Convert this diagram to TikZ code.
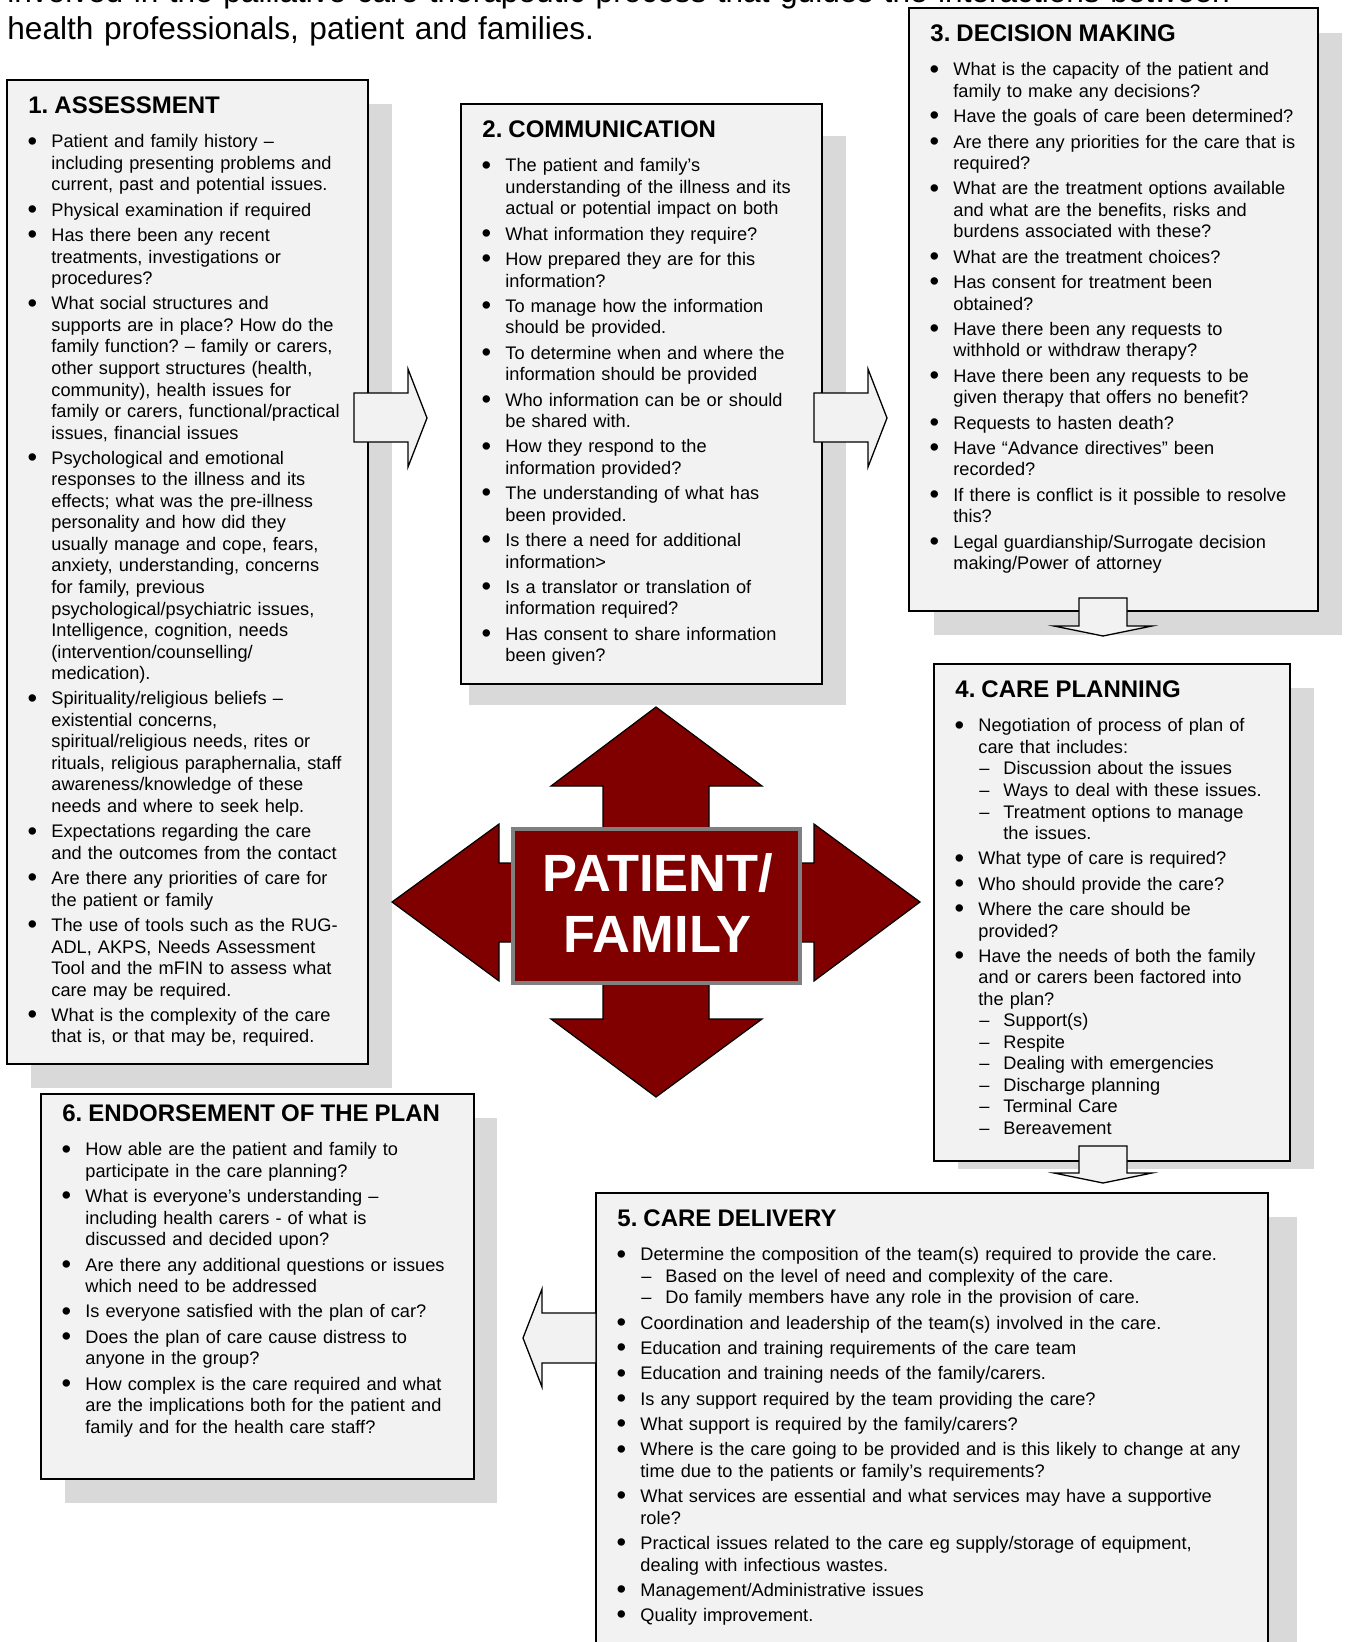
\documentclass[tikz,border=0pt]{standalone}
\usepackage{fontspec}
\setmainfont{Liberation Sans}
\frenchspacing
\definecolor{boxfill}{HTML}{F2F2F2}
\definecolor{shadowgray}{HTML}{D9D9D9}
\definecolor{pfred}{HTML}{800000}
\definecolor{rimgray}{HTML}{808080}
\newcommand\bodyfont{\fontsize{9.1pt}{10.76pt}\selectfont}
\newcommand\boxtitle[1]{{\fontsize{12pt}{14pt}\selectfont\bfseries\rule{0pt}{10pt}#1\par}\vspace{4.6pt}}
\newcommand\bulletmark{\raisebox{-1.1pt}{\scalebox{1.5}{•}}}
\newcommand\bitem[1]{\par\vspace{1.9pt}\hangindent=11.5pt\hangafter=1\noindent\hbox to 11.5pt{\hbox to 4pt{\hss\bulletmark\hss}\hss}#1\par}
\newcommand\sitem[1]{\par\hangindent=24pt\hangafter=1\noindent\hbox to 24pt{\hskip 11.5pt\hbox to 6pt{\hss –\hss}\hss}#1\par}
\begin{document}
\begin{tikzpicture}[x=0.5pt,y=-0.5pt,
  panel/.style={draw=black,line width=0.7pt,fill=boxfill,anchor=north west,inner sep=0pt,outer sep=0pt},
  shadowbox/.style={fill=shadowgray},
  boxtext/.style={anchor=north west,inner sep=0pt,text width=330pt,align=left,font=\bodyfont},
  blockarrow/.style={draw=black,line width=0.65pt,fill=boxfill,line join=miter},
  hub/.style={draw=black,line width=0.6pt,fill=pfred,line join=miter}]
\useasboundingbox (0,0) rectangle (1344,1642);
\fill[white] (0,0) rectangle (1344,1642);

% intro text (first line cut by the page top)
\node[anchor=north west,inner sep=0pt,text width=700pt,align=left,font=\fontsize{15.8pt}{18.4pt}\selectfont] (intro) at (7,-26)
  {\rule{0pt}{14pt}involved in the palliative care therapeutic process that guides the interactions between\\health professionals, patient and families.};

% shadows
\fill[shadowbox] (31,104) rectangle (392,1088);
\fill[shadowbox] (469,136) rectangle (846,705);
\fill[shadowbox] (934,33) rectangle (1342,635);
\fill[shadowbox] (958,688) rectangle (1314,1169);
\fill[shadowbox] (620,1217) rectangle (1297,1720);
\fill[shadowbox] (65,1118) rectangle (497,1503);

% boxes
\node[panel,minimum width=180.5pt,minimum height=492pt] (b1) at (7,80) {};
\node[panel,minimum width=180.5pt,minimum height=290pt] (b2) at (461,104) {};
\node[panel,minimum width=204.5pt,minimum height=301.5pt] (b3) at (909,8) {};
\node[panel,minimum width=178pt,minimum height=248.5pt] (b4) at (934,664) {};
\node[panel,minimum width=336pt,minimum height=263.5pt] (b5) at (596,1193) {};
\node[panel,minimum width=216.5pt,minimum height=192.5pt] (b6) at (41,1094) {};

% box texts
\node[boxtext] (t1) at (28,93) {\boxtitle{1. ASSESSMENT}
\bitem{Patient and family history –\newline including presenting problems and\newline current, past and potential issues.}
\bitem{Physical examination if required}
\bitem{Has there been any recent\newline treatments, investigations or\newline procedures?}
\bitem{What social structures and\newline supports are in place? How do the\newline family function? – family or carers,\newline other support structures (health,\newline community), health issues for\newline family or carers, functional/practical\newline issues, financial issues}
\bitem{Psychological and emotional\newline responses to the illness and its\newline effects; what was the pre-illness\newline personality and how did they\newline usually manage and cope, fears,\newline anxiety, understanding, concerns\newline for family, previous\newline psychological/psychiatric issues,\newline Intelligence, cognition, needs\newline (intervention/counselling/\newline medication).}
\bitem{Spirituality/religious beliefs –\newline existential concerns,\newline spiritual/religious needs, rites or\newline rituals, religious paraphernalia, staff\newline awareness/knowledge of these\newline needs and where to seek help.}
\bitem{Expectations regarding the care\newline and the outcomes from the contact}
\bitem{Are there any priorities of care for\newline the patient or family}
\bitem{The use of tools such as the RUG-\newline ADL, AKPS, Needs Assessment\newline Tool and the mFIN to assess what\newline care may be required.}
\bitem{What is the complexity of the care\newline that is, or that may be, required.}};

\node[boxtext] (t2) at (482,117) {\boxtitle{2. COMMUNICATION}
\bitem{The patient and family’s\newline understanding of the illness and its\newline actual or potential impact on both}
\bitem{What information they require?}
\bitem{How prepared they are for this\newline information?}
\bitem{To manage how the information\newline should be provided.}
\bitem{To determine when and where the\newline information should be provided}
\bitem{Who information can be or should\newline be shared with.}
\bitem{How they respond to the\newline information provided?}
\bitem{The understanding of what has\newline been provided.}
\bitem{Is there a need for additional\newline information>}
\bitem{Is a translator or translation of\newline information required?}
\bitem{Has consent to share information\newline been given?}};

\node[boxtext] (t3) at (930,21) {\boxtitle{3. DECISION MAKING}
\bitem{What is the capacity of the patient and\newline family to make any decisions?}
\bitem{Have the goals of care been determined?}
\bitem{Are there any priorities for the care that is\newline required?}
\bitem{What are the treatment options available\newline and what are the benefits, risks and\newline burdens associated with these?}
\bitem{What are the treatment choices?}
\bitem{Has consent for treatment been\newline obtained?}
\bitem{Have there been any requests to\newline withhold or withdraw therapy?}
\bitem{Have there been any requests to be\newline given therapy that offers no benefit?}
\bitem{Requests to hasten death?}
\bitem{Have “Advance directives” been\newline recorded?}
\bitem{If there is conflict is it possible to resolve\newline this?}
\bitem{Legal guardianship/Surrogate decision\newline making/Power of attorney}};

\node[boxtext] (t4) at (955,677) {\boxtitle{4. CARE PLANNING}
\bitem{Negotiation of process of plan of\newline care that includes:}
\sitem{Discussion about the issues}
\sitem{Ways to deal with these issues.}
\sitem{Treatment options to manage\newline the issues.}
\bitem{What type of care is required?}
\bitem{Who should provide the care?}
\bitem{Where the care should be\newline provided?}
\bitem{Have the needs of both the family\newline and or carers been factored into\newline the plan?}
\sitem{Support(s)}
\sitem{Respite}
\sitem{Dealing with emergencies}
\sitem{Discharge planning}
\sitem{Terminal Care}
\sitem{Bereavement}};

\node[boxtext,text width=400pt] (t5) at (617,1206) {\boxtitle{5. CARE DELIVERY}
\bitem{Determine the composition of the team(s) required to provide the care.}
\sitem{Based on the level of need and complexity of the care.}
\sitem{Do family members have any role in the provision of care.}
\bitem{Coordination and leadership of the team(s) involved in the care.}
\bitem{Education and training requirements of the care team}
\bitem{Education and training needs of the family/carers.}
\bitem{Is any support required by the team providing the care?}
\bitem{What support is required by the family/carers?}
\bitem{Where is the care going to be provided and is this likely to change at any\newline time due to the patients or family’s requirements?}
\bitem{What services are essential and what services may have a supportive\newline role?}
\bitem{Practical issues related to the care eg supply/storage of equipment,\newline dealing with infectious wastes.}
\bitem{Management/Administrative issues}
\bitem{Quality improvement.}};

\node[boxtext] (t6) at (62,1101) {\boxtitle{6. ENDORSEMENT OF THE PLAN}
\bitem{How able are the patient and family to\newline participate in the care planning?}
\bitem{What is everyone’s understanding –\newline including health carers - of what is\newline discussed and decided upon?}
\bitem{Are there any additional questions or issues\newline which need to be addressed}
\bitem{Is everyone satisfied with the plan of car?}
\bitem{Does the plan of care cause distress to\newline anyone in the group?}
\bitem{How complex is the care required and what\newline are the implications both for the patient and\newline family and for the health care staff?}};

% block arrows between the panels
\draw[blockarrow] (354,393) -- (408,393) -- (408,369) -- (427,418) -- (408,467) -- (408,442) -- (354,442) -- cycle;
\draw[blockarrow] (814,393) -- (868,393) -- (868,369) -- (887,418) -- (868,467) -- (868,442) -- (814,442) -- cycle;
\draw[blockarrow] (1079,598) -- (1127,598) -- (1127,626) -- (1152,626) -- (1103,636) -- (1054,626) -- (1079,626) -- cycle;
\draw[blockarrow] (1079,1146) -- (1127,1146) -- (1127,1173) -- (1152,1173) -- (1103,1183) -- (1054,1173) -- (1079,1173) -- cycle;
\draw[blockarrow] (596,1313) -- (542,1313) -- (542,1289) -- (523,1338) -- (542,1387) -- (542,1363) -- (596,1363) -- cycle;

% central four-way arrow
\draw[hub] (656,707) -- (762,786) -- (709,786) -- (709,863) -- (814,863) -- (814,824) -- (920,902)
  -- (814,981) -- (814,942) -- (709,942) -- (709,1019) -- (762,1019) -- (656,1097) -- (551,1019)
  -- (603,1019) -- (603,942) -- (499,942) -- (499,981) -- (392,902) -- (499,824) -- (499,863)
  -- (603,863) -- (603,786) -- (551,786) -- cycle;
\node[draw=rimgray,line width=2pt,fill=pfred,minimum width=143.5pt,minimum height=77pt,inner sep=0pt] (pf) at (656.5,906) {};
\node[inner sep=0pt,text=white,align=center,font=\fontsize{26.2pt}{30.5pt}\selectfont\bfseries] (pflabel) at (657.5,902.7) {PATIENT/\\FAMILY};
\end{tikzpicture}
\end{document}
